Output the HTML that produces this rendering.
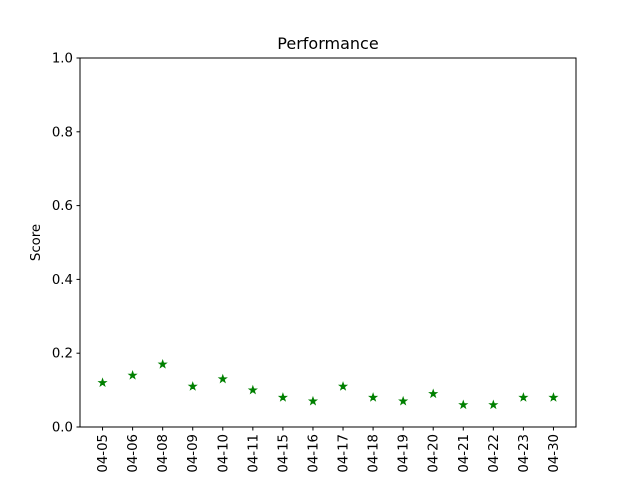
<!DOCTYPE html>
<html><head><meta charset="utf-8"><style>
html,body{margin:0;padding:0;background:#fff}
svg{display:block;font-family:"DejaVu Sans","Liberation Sans",sans-serif}
</style></head><body>
<svg id="chart" width="640" height="480">
<rect width="640" height="480" fill="#fff"/>
<text x="328" y="49" text-anchor="middle" font-size="16">Performance</text>
<text transform="translate(40,242.5) rotate(-90)" text-anchor="middle" font-size="13.3">Score</text>
<g id="marks"></g>
<g id="axes"></g>
<rect x="80" y="58" width="496" height="369" fill="none" stroke="#000" stroke-width="1"/>
</svg>
<script>
const categories=["04-05","04-06","04-08","04-09","04-10","04-11","04-15","04-16","04-17","04-18","04-19","04-20","04-21","04-22","04-23","04-30"];
const scores=[0.12,0.14,0.17,0.11,0.13,0.10,0.08,0.07,0.11,0.08,0.07,0.09,0.06,0.06,0.08,0.08];
const yTicks=[0,0.2,0.4,0.6,0.8,1.0];
const yTickLabels=["0.0","0.2","0.4","0.6","0.8","1.0"];
const NS="http://www.w3.org/2000/svg";
const L=80,R=576,T=58,B=427;
const xMin=-0.75,xMax=categories.length-1+0.75;
function xs(i){return L+(i-xMin)/(xMax-xMin)*(R-L);}
function ys(v){return B-(v-0)/(1-0)*(B-T);}
const axes=document.getElementById('axes'),marks=document.getElementById('marks');
function mk(tag,attrs,parent){const e=document.createElementNS(NS,tag);for(const k in attrs)e.setAttribute(k,attrs[k]);parent.appendChild(e);return e;}
yTicks.forEach((v,i)=>{
  const y=ys(v);
  const t=mk('line',{x1:L-3.5,x2:L,y1:y,y2:y,stroke:'#000'},axes);
  
  
  const lb=mk('text',{x:L-7,y:y+4.5,'text-anchor':'end','font-size':'13.3'},axes);
  lb.textContent=yTickLabels[i];
  
  
});
categories.forEach((c,i)=>{
  const x=xs(i);
  const t=mk('line',{x1:x,x2:x,y1:B,y2:B+3.5,stroke:'#000'},axes);
  
  
  const lb=mk('text',{transform:`translate(${x+4.5},${B+7}) rotate(-90)`,'text-anchor':'end','font-size':'13.3'},axes);
  lb.textContent=c;
  
  
});
function star(cx,cy,r){
  let p=[];
  for(let k=0;k<10;k++){const a=-Math.PI/2+k*Math.PI/5;const rr=k%2?r*0.4:r;p.push((cx+rr*Math.cos(a)).toFixed(2)+','+(cy+rr*Math.sin(a)).toFixed(2));}
  return p.join(' ');
}
scores.forEach((v,i)=>{
  const s=mk('polygon',{points:star(xs(i),ys(v),3.8),fill:'#008000',stroke:'#008000','stroke-width':'1'},marks);
  
  
});
</script>
</body></html>
